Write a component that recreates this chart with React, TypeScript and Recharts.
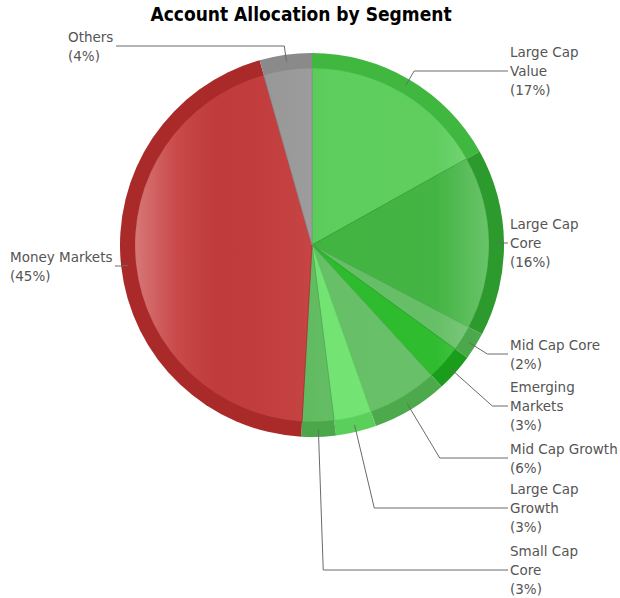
import React from "react";
import { PieChart, Pie, Cell } from "recharts";

// Data
const CATEGORIES = [
  "Large Cap Value",
  "Large Cap Core",
  "Mid Cap Core",
  "Emerging Markets",
  "Mid Cap Growth",
  "Large Cap Growth",
  "Small Cap Core",
  "Money Markets",
  "Others",
];
const VALUES = [16.9, 15.8, 2.3, 3.2, 6.4, 3.4, 2.9, 44.7, 4.4];
const LABEL_LINES = [
  ["Large Cap", "Value"],
  ["Large Cap", "Core"],
  ["Mid Cap Core"],
  ["Emerging", "Markets"],
  ["Mid Cap Growth"],
  ["Large Cap", "Growth"],
  ["Small Cap", "Core"],
  ["Money Markets"],
  ["Others"],
];

// Colours: face and rim
const FACE_COLORS = ["#55cb55", "#38b038", "#5dbb5d", "#22b822", "#5fbd5f", "#6ce36c", "#5cba5c", "#c63d3d", "#9a9a9a"];
const RIM_COLORS = ["#40b840", "#2c9a2c", "#4ba84b", "#1a9d1a", "#4ca94c", "#5ad05a", "#4aa74a", "#aa2a2a", "#8a8a8a"];

// Label layout (leader line y, text x, end of horizontal leader)
const LABEL_Y = [71, 243, 354, 406, 458, 508, 570, 266, 46];
const LABEL_X = [510, 510, 510, 510, 510, 510, 510, 10, 68];
const LEADER_END_X = [508, 508, 508, 508, 508, 508, 508, 115, 116];

const data = CATEGORIES.map((name, i) => ({ name, value: VALUES[i] }));

const CX = 312;
const CY = 245;
const R = 192;
const RIM = 15;
const LINE_H = 19;
const RAD = Math.PI / 180;

const renderLabel = (props: any) => {
  const { cx, cy, midAngle, outerRadius, index, percent } = props;
  const cos = Math.cos(-midAngle * RAD);
  const sin = Math.sin(-midAngle * RAD);
  const sx = cx + (outerRadius - 7) * cos;
  const sy = cy + (outerRadius - 7) * sin;
  const ly = LABEL_Y[index];
  let ex = sx;
  const t = Math.abs(sin) > 0.02 ? (ly - sy) / sin : -1;
  if (t > 0) ex = sx + t * cos;
  const lines = [...LABEL_LINES[index], `(${Math.round(percent * 100)}%)`];
  const firstY = ly - ((lines.length - 1) / 2) * LINE_H;
  return (
    <g key={`lbl-${index}`}>
      <polyline
        points={`${sx},${sy} ${ex},${ly} ${LEADER_END_X[index]},${ly}`}
        fill="none"
        stroke="#6a6a6a"
        strokeWidth={1}
      />
      <text
        x={LABEL_X[index]}
        y={firstY}
        fill="#555555"
        fontSize={13.5}
        fontFamily="'DejaVu Sans', Verdana, sans-serif"
        dominantBaseline="central"
      >
        {lines.map((l, j) => (
          <tspan key={j} x={LABEL_X[index]} y={firstY + j * LINE_H}>
            {l}
          </tspan>
        ))}
      </text>
    </g>
  );
};

export default function App() {
  return (
    <div style={{ position: "absolute", left: 0, top: 0, width: 620, height: 598, background: "#fff" }}>
      <div
        style={{
          position: "absolute",
          left: 0,
          width: 602,
          top: 3,
          textAlign: "center",
          fontFamily: "'DejaVu Sans Condensed', 'DejaVu Sans', sans-serif",
          fontWeight: 700,
          fontSize: 19,
          color: "#000",
        }}
      >
        Account Allocation by Segment
      </div>
      <PieChart width={620} height={598} margin={{ top: 0, right: 0, bottom: 0, left: 0 }}>
        <defs>
          <linearGradient id="gloss" gradientUnits="userSpaceOnUse" x1={CX - R + RIM} y1={0} x2={CX + R - RIM} y2={0}>
            <stop offset="0%" stopColor="#ffffff" stopOpacity={0.3} />
            <stop offset="12%" stopColor="#ffffff" stopOpacity={0.06} />
            <stop offset="25%" stopColor="#000000" stopOpacity={0.03} />
            <stop offset="55%" stopColor="#ffffff" stopOpacity={0.05} />
            <stop offset="85%" stopColor="#ffffff" stopOpacity={0.06} />
            <stop offset="100%" stopColor="#ffffff" stopOpacity={0.25} />
          </linearGradient>
        </defs>
        {/* outer rim */}
        <Pie
          data={data}
          dataKey="value"
          cx={CX}
          cy={CY}
          outerRadius={R}
          startAngle={90}
          endAngle={-270}
          stroke="none"
          isAnimationActive={false}
          label={renderLabel}
          labelLine={false}
        >
          {data.map((d, i) => (
            <Cell key={d.name} fill={RIM_COLORS[i]} />
          ))}
        </Pie>
        {/* face */}
        <Pie
          data={data}
          dataKey="value"
          cx={CX}
          cy={CY}
          outerRadius={R - RIM}
          startAngle={90}
          endAngle={-270}
          isAnimationActive={false}
        >
          {data.map((d, i) => (
            <Cell key={d.name} fill={FACE_COLORS[i]} stroke={RIM_COLORS[i]} strokeWidth={0.8} />
          ))}
        </Pie>
        {/* gloss overlay */}
        <Pie
          data={data}
          dataKey="value"
          cx={CX}
          cy={CY}
          outerRadius={R - RIM}
          startAngle={90}
          endAngle={-270}
          stroke="none"
          fill="url(#gloss)"
          isAnimationActive={false}
        />
      </PieChart>
    </div>
  );
}
